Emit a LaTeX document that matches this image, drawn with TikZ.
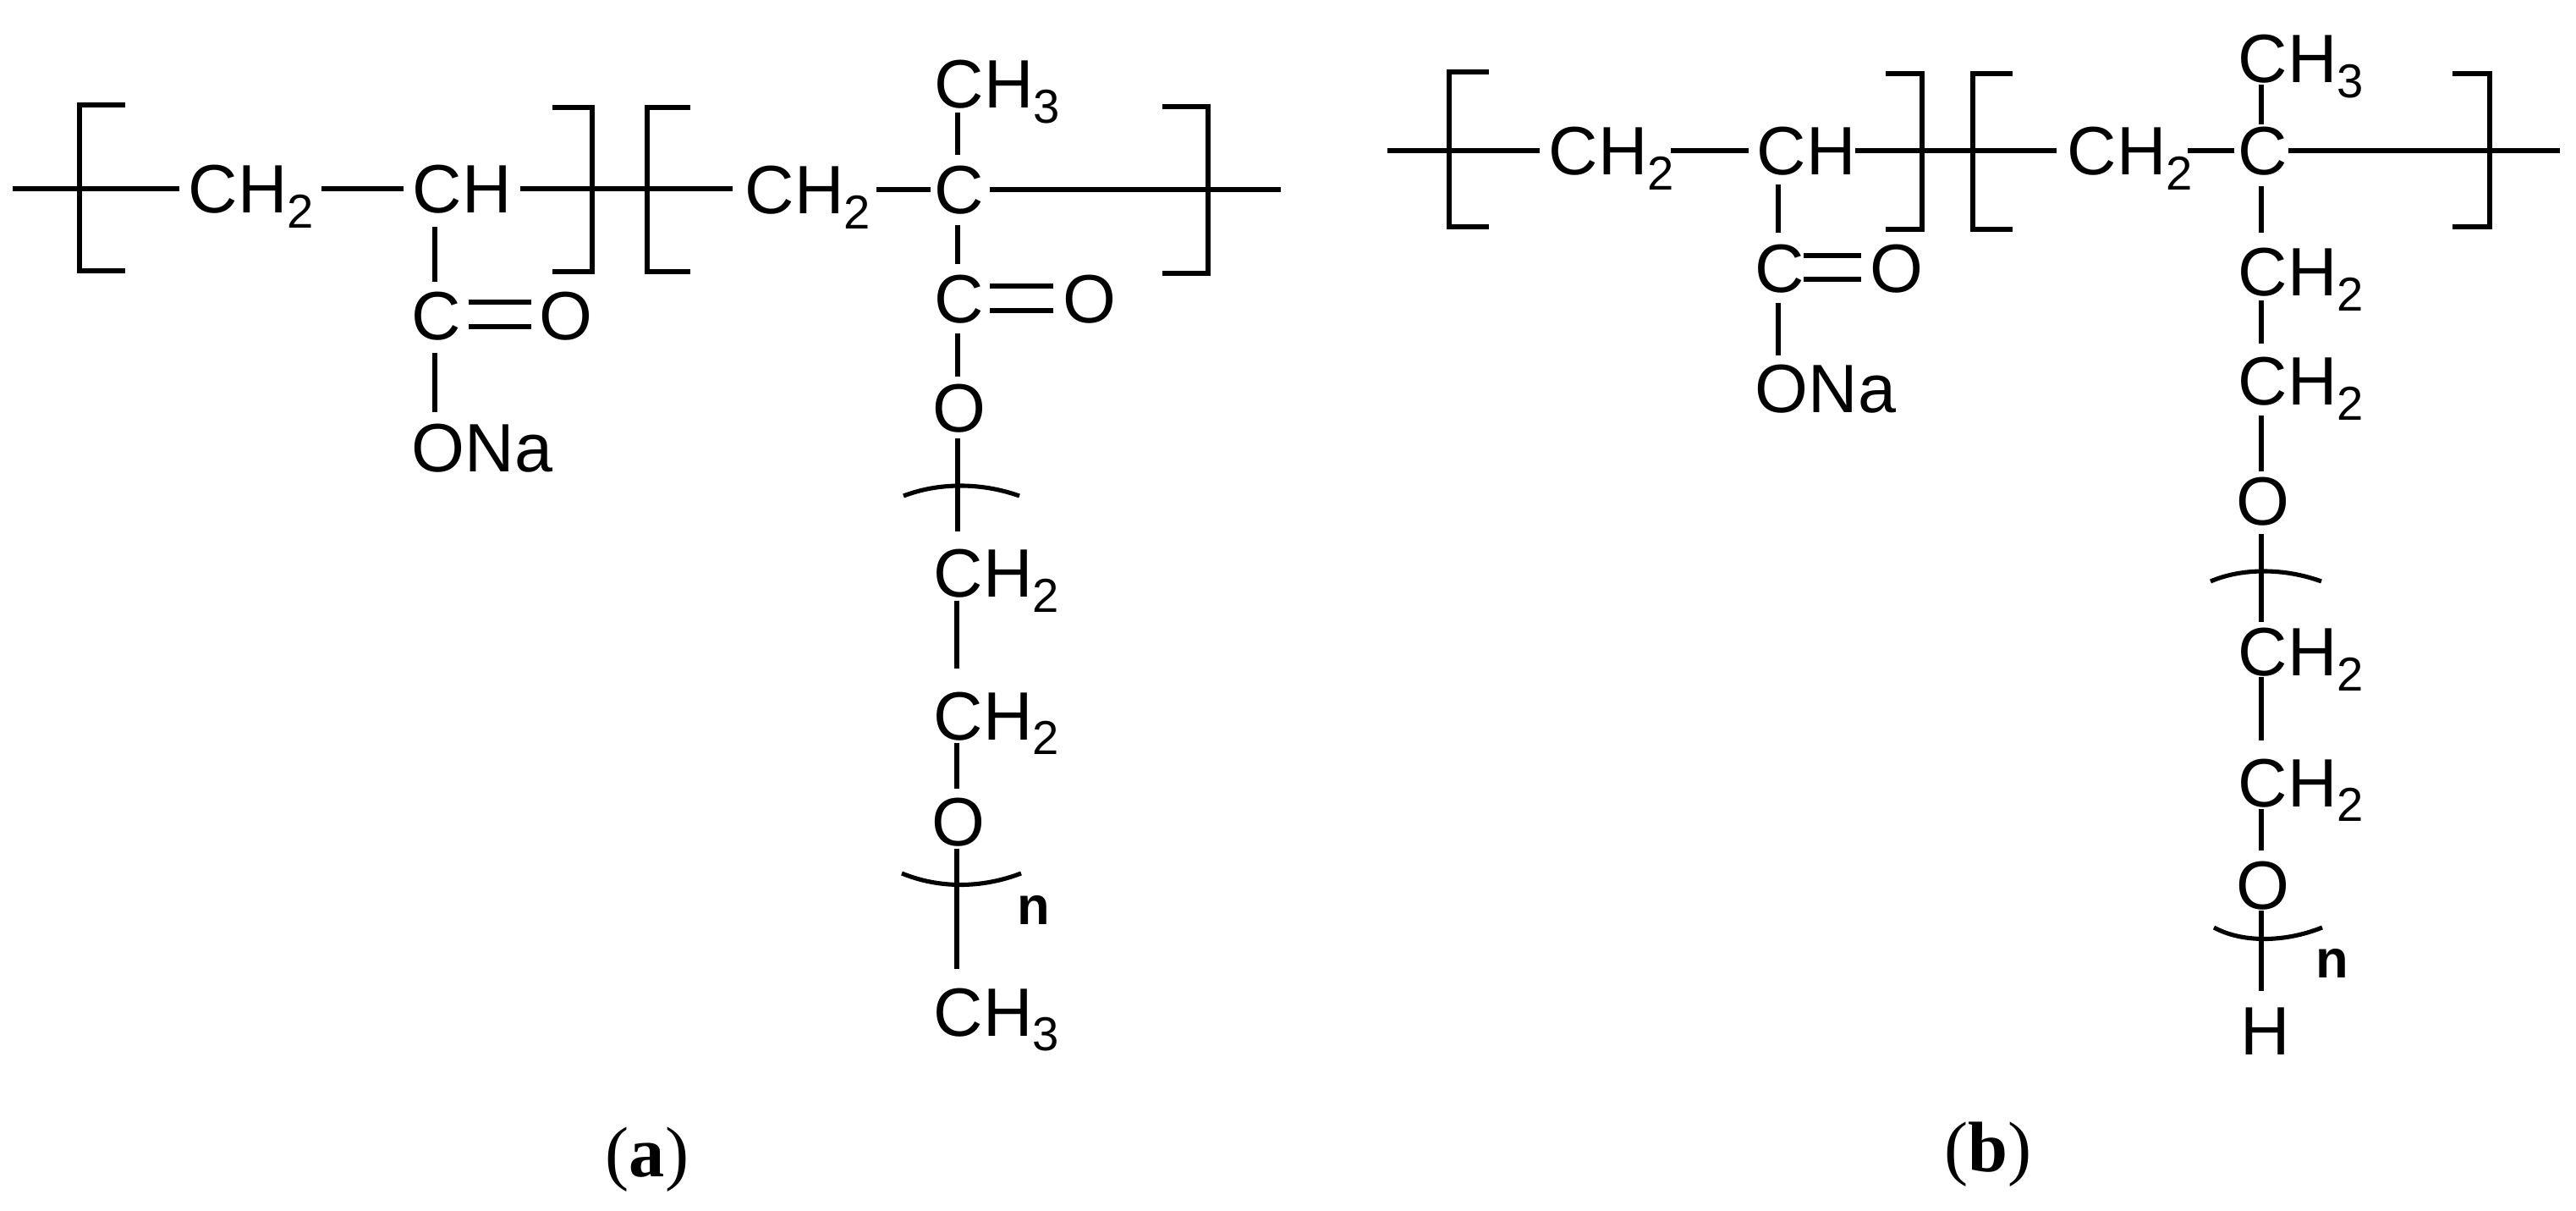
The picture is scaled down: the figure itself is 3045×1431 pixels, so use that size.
\documentclass[tikz,border=0pt]{standalone}
\usepackage{fontspec}
\setmainfont{Liberation Sans}
\newfontfamily\capfont{Liberation Serif}
\newcommand\sbs[1]{\raisebox{-0.22em}{\fontsize{16}{16}\selectfont #1}}
\begin{document}
\begin{tikzpicture}[x=0.01cm,y=-0.01cm,
  atom/.style={anchor=base west,inner sep=0pt,font=\fontsize{23}{23}\selectfont},
  bond/.style={line width=1.45pt},
  brk/.style={line width=1.45pt},
  nlab/.style={inner sep=0pt,font=\fontsize{18}{18}\selectfont\bfseries},
  caplab/.style={inner sep=0pt,font=\capfont\fontsize{24}{24}\selectfont}]
\useasboundingbox (0,0) rectangle (3045,1431);
% ---------- (a) ----------
\draw[bond] (15,223) -- (212,223);
\draw[brk] (148,124) -- (94,124) -- (94,320) -- (148,320);
\node[atom] (a1) at (222,252) {CH\sbs{2}};
\draw[bond] (380,223) -- (477,223);
\node[atom] (a2) at (487,252) {CH};
\draw[bond] (615,223) -- (866,223);
\draw[brk] (653,127) -- (700,127) -- (700,321) -- (653,321);
\draw[brk] (816,127) -- (765,127) -- (765,321) -- (816,321);
\draw[bond] (514,268) -- (514,333);
\node[atom] (a3) at (486,402) {C};
\draw[bond] (554,357) -- (628,357);
\draw[bond] (554,386) -- (628,386);
\node[atom] (a4) at (637,402) {O};
\draw[bond] (514,417) -- (514,487);
\node[atom] (a5) at (486,558) {ONa};
\node[atom] (a6) at (880,253) {CH\sbs{2}};
\draw[bond] (1036,224) -- (1100,224);
\node[atom] (a7) at (1104,253) {C};
\node[atom] (a8) at (1104,128) {CH\sbs{3}};
\draw[bond] (1132,133) -- (1132,183);
\draw[bond] (1170,224) -- (1514,224);
\draw[brk] (1374,126) -- (1428,126) -- (1428,323) -- (1374,323);
\draw[bond] (1132,266) -- (1132,312);
\node[atom] (a9) at (1104,382) {C};
\draw[bond] (1170,338) -- (1245,338);
\draw[bond] (1170,367) -- (1245,367);
\node[atom] (a10) at (1256,382) {O};
\draw[bond] (1132,394) -- (1132,445);
\node[atom] (a11) at (1102,511) {O};
\draw[bond] (1132,518) -- (1132,628);
\draw[bond] (1068,586) .. controls (1110,570) and (1160,570) .. (1205,586);
\node[atom] (a12) at (1103,706) {CH\sbs{2}};
\draw[bond] (1131,710) -- (1131,790);
\node[atom] (a13) at (1103,874) {CH\sbs{2}};
\draw[bond] (1131,878) -- (1131,932);
\node[atom] (a14) at (1101,999) {O};
\draw[bond] (1131,1003) -- (1131,1145);
\draw[bond] (1066,1032) .. controls (1110,1050) and (1160,1050) .. (1207,1032);
\node[nlab] (a15) at (1222,1075) {n};
\node[atom] (a16) at (1103,1224) {CH\sbs{3}};
\node[caplab] (capa) at (765,1370) {(\textbf{a})};
% ---------- (b) ----------
\draw[bond] (1640,178) -- (1820,178);
\draw[brk] (1760,85) -- (1713,85) -- (1713,268) -- (1760,268);
\node[atom] (b1) at (1830,207) {CH\sbs{2}};
\draw[bond] (1975,178) -- (2067,178);
\node[atom] (b2) at (2076,207) {CH};
\draw[bond] (2193,178) -- (2431,178);
\draw[brk] (2229,87) -- (2272,87) -- (2272,271) -- (2229,271);
\draw[brk] (2379,87) -- (2332,87) -- (2332,271) -- (2379,271);
\node[atom] (b3) at (2443,207) {CH\sbs{2}};
\draw[bond] (2586,178) -- (2641,178);
\node[atom] (b4) at (2645,207) {C};
\draw[bond] (2705,178) -- (3026,178);
\draw[brk] (2899,87) -- (2943,87) -- (2943,268) -- (2899,268);
\node[atom] (b5) at (2645,98) {CH\sbs{3}};
\draw[bond] (2673,100) -- (2673,147);
\draw[bond] (2102,218) -- (2102,275);
\node[atom] (b6) at (2074,346) {C};
\draw[bond] (2132,302) -- (2200,302);
\draw[bond] (2132,330) -- (2200,330);
\node[atom] (b7) at (2210,346) {O};
\draw[bond] (2102,358) -- (2102,420);
\node[atom] (b8) at (2074,488) {ONa};
\draw[bond] (2673,220) -- (2673,275);
\node[atom] (b9) at (2645,350) {CH\sbs{2}};
\draw[bond] (2673,355) -- (2673,406);
\node[atom] (b10) at (2645,479) {CH\sbs{2}};
\draw[bond] (2673,491) -- (2673,557);
\node[atom] (b11) at (2643,621) {O};
\draw[bond] (2673,631) -- (2673,735);
\draw[bond] (2613,687) .. controls (2650,671) and (2700,671) .. (2744,687);
\node[atom] (b12) at (2645,799) {CH\sbs{2}};
\draw[bond] (2673,800) -- (2673,875);
\node[atom] (b13) at (2645,953) {CH\sbs{2}};
\draw[bond] (2673,956) -- (2673,1005);
\node[atom] (b14) at (2643,1074) {O};
\draw[bond] (2673,1076) -- (2673,1171);
\draw[bond] (2617,1096) .. controls (2650,1114) and (2700,1114) .. (2745,1096);
\node[nlab] (b15) at (2757,1138) {n};
\node[atom] (b16) at (2648,1246) {H};
\node[caplab] (capb) at (2350,1364) {(\textbf{b})};
\end{tikzpicture}
\end{document}
